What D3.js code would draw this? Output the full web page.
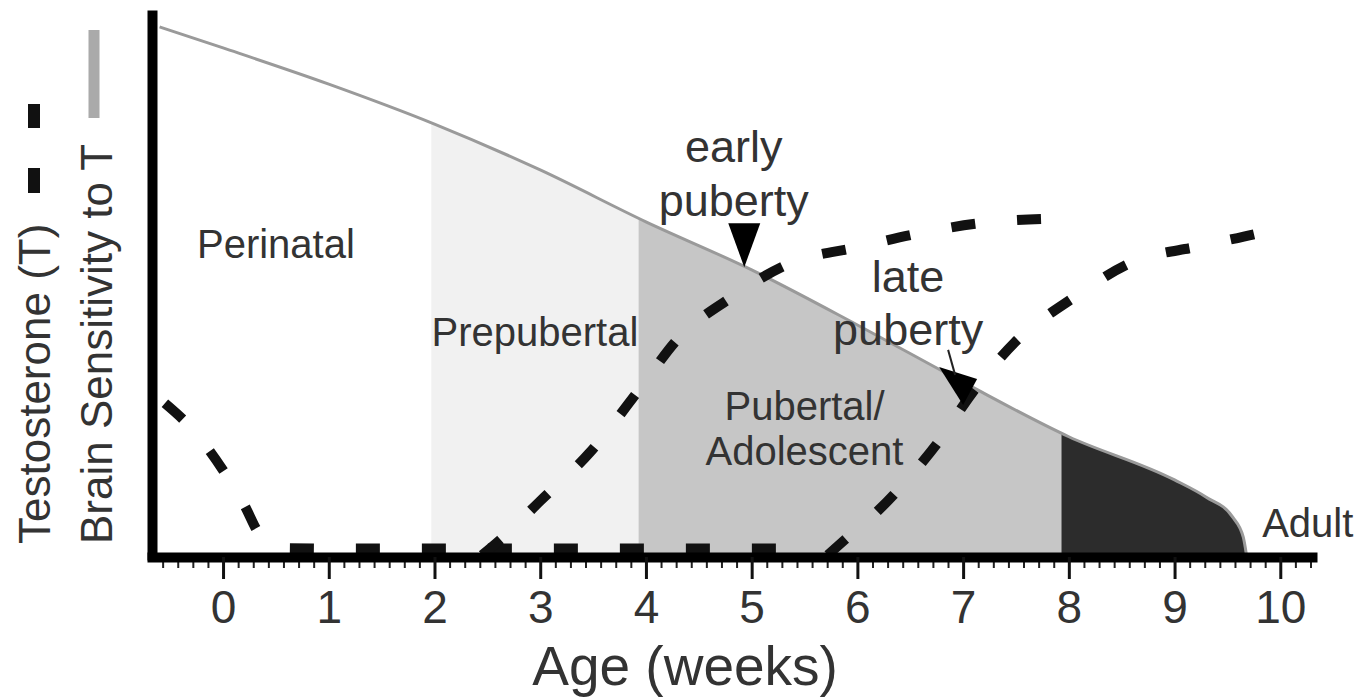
<!DOCTYPE html>
<html>
<head>
<meta charset="utf-8">
<style>
  body { margin: 0; background: #fff; }
  svg { display: block; }
  text { font-family: "Liberation Sans", Arial, sans-serif; fill: #333; }
  .region-label { font-size: 40px; text-anchor: middle; }
  .note { font-size: 45px; text-anchor: middle; }
  .ylab { font-size: 44px; }
  .testo { fill: none; stroke: #111; stroke-width: 10; stroke-dasharray: 24,42; }
  .sens { fill: none; stroke: #9a9a9a; stroke-width: 3; }
</style>
<script src="https://cdn.jsdelivr.net/npm/d3@7"></script>
</head>
<body>
<svg id="chart" width="1371" height="698"></svg>
<script>
// brain sensitivity to T (grey line), weeks vs relative level
const sensWeeks  = [-0.6, 0, 1, 2, 3, 4, 5, 6, 7, 8, 9, 9.3, 9.55, 9.65, 9.68];
const sensValues = [0.978, 0.939, 0.872, 0.798, 0.713, 0.617, 0.528, 0.426, 0.32, 0.219, 0.139, 0.107, 0.07, 0.033, 0];

// testosterone curves (dashed)
const periWeeks  = [-0.55, -0.3, 0, 0.2, 0.35, 0.55, 1, 2, 3, 4, 5.3];
const periValues = [0.281, 0.235, 0.157, 0.093, 0.037, 0.013, 0.012, 0.012, 0.012, 0.012, 0.012];
const earlyWeeks  = [2.45, 2.62, 3.0, 3.47, 3.95, 4.3, 4.8, 5.36, 6.0, 6.64, 7.28, 8.06];
const earlyValues = [0, 0.028, 0.10, 0.19, 0.31, 0.40, 0.476, 0.54, 0.57, 0.598, 0.617, 0.624];
const lateWeeks  = [5.72, 5.88, 6.2, 6.55, 6.78, 7.07, 7.49, 8.04, 8.61, 9.24, 9.88, 10.0];
const lateValues = [0, 0.028, 0.083, 0.157, 0.213, 0.296, 0.394, 0.476, 0.543, 0.572, 0.6, 0.606];

// developmental periods
const periodNames  = ["Perinatal", "Prepubertal", "Pubertal", "Adult"];
const periodStart  = [-0.68, 1.97, 3.93, 7.93];
const periodEnd    = [1.97, 3.93, 7.93, 10.3];
const periodColors = ["#ffffff", "#f1f1f1", "#c6c6c6", "#2c2c2c"];

const xTicks = [0, 1, 2, 3, 4, 5, 6, 7, 8, 9, 10];

const svg = d3.select("#chart");
const x = d3.scaleLinear().domain([-0.672, 10.3]).range([152, 1312]);
const y = d3.scaleLinear().domain([0, 1]).range([555, 15]);

const zip = (ws, vs) => ws.map((w, i) => ({ w: w, v: vs[i] }));
const sensData = zip(sensWeeks, sensValues);

// filled regions under the sensitivity curve
const area = d3.area().x(d => x(d.w)).y0(y(0)).y1(d => y(d.v)).curve(d3.curveMonotoneX);
const defs = svg.append("defs");
periodNames.forEach((name, i) => {
  defs.append("clipPath").attr("id", "clip-" + i)
    .append("rect")
    .attr("x", x(periodStart[i])).attr("y", 0)
    .attr("width", x(periodEnd[i]) - x(periodStart[i])).attr("height", 560);
  svg.append("path")
    .datum(sensData)
    .attr("d", area)
    .attr("fill", periodColors[i])
    .attr("clip-path", "url(#clip-" + i + ")");
});

const line = d3.line().x(d => x(d.w)).y(d => y(d.v)).curve(d3.curveMonotoneX);
svg.append("path").datum(sensData).attr("class", "sens").attr("d", line);

[zip(periWeeks, periValues), zip(earlyWeeks, earlyValues), zip(lateWeeks, lateValues)].forEach(d => {
  svg.append("path").datum(d).attr("class", "testo").attr("d", line);
});

// axes
const minorTicks = d3.range(-4, 73).map(d => d / 7).filter(d => xTicks.indexOf(d) < 0);
const minor = svg.append("g").attr("transform", "translate(0,557)")
  .call(d3.axisBottom(x).tickValues(minorTicks).tickSize(11).tickSizeOuter(0).tickFormat(""));
minor.select(".domain").remove();
minor.selectAll(".tick line").attr("stroke", "#222").attr("stroke-width", 2);

const xAxis = svg.append("g").attr("transform", "translate(0,557)")
  .call(d3.axisBottom(x).tickValues(xTicks).tickSize(22).tickSizeOuter(0));
xAxis.select(".domain").attr("stroke", "#000").attr("stroke-width", 10).attr("stroke-linecap", "square");
xAxis.selectAll(".tick line").attr("stroke", "#111").attr("stroke-width", 3);
xAxis.selectAll(".tick text")
  .attr("y", 66).attr("dy", 0)
  .style("font-size", "46px").style("font-family", "'Liberation Sans', Arial, sans-serif")
  .attr("fill", "#333");

const yAxis = svg.append("g").attr("transform", "translate(152,0)")
  .call(d3.axisLeft(y).tickValues([]).tickSizeOuter(0));
yAxis.select(".domain").attr("stroke", "#000").attr("stroke-width", 10).attr("stroke-linecap", "square");

svg.append("text").attr("x", x(4.37)).attr("y", 685)
  .attr("text-anchor", "middle").style("font-size", "55px").attr("fill", "#222")
  .text("Age (weeks)");

// y labels with legend marks
svg.append("text").attr("class", "ylab").attr("transform", "translate(50,544) rotate(-90)").text("Testosterone (T)");
svg.append("text").attr("class", "ylab").attr("transform", "translate(112,544) rotate(-90)").text("Brain Sensitivity to T");
svg.append("line").attr("x1", 34).attr("x2", 34).attr("y1", 193).attr("y2", 104)
  .attr("stroke", "#111").attr("stroke-width", 12).attr("stroke-dasharray", "25,40");
svg.append("line").attr("x1", 94).attr("x2", 94).attr("y1", 118).attr("y2", 30)
  .attr("stroke", "#aaa").attr("stroke-width", 11);

// region labels
svg.append("text").attr("class", "region-label").attr("x", x(0.5)).attr("y", 258).text("Perinatal");
svg.append("text").attr("class", "region-label").attr("x", x(2.95)).attr("y", 346).text("Prepubertal");
svg.append("text").attr("class", "region-label").attr("x", x(5.5)).attr("y", 420).text("Pubertal/");
svg.append("text").attr("class", "region-label").attr("x", x(5.5)).attr("y", 465).text("Adolescent");
svg.append("text").attr("class", "region-label").attr("x", x(10.26)).attr("y", 537).text("Adult");

// puberty onset annotations
svg.append("text").attr("class", "note").attr("x", x(4.83)).attr("y", 162).text("early");
svg.append("text").attr("class", "note").attr("x", x(4.83)).attr("y", 216).text("puberty");
svg.append("text").attr("class", "note").attr("x", x(6.48)).attr("y", 292).text("late");
svg.append("text").attr("class", "note").attr("x", x(6.48)).attr("y", 345).text("puberty");

const arrowWeeks = [4.93, 7.0];
const arrowValues = [0.533, 0.278];
const arrowShapes = [
  [[-16, -44], [16, -44], [0, 0]],
  [[-24, -38], [14, -26], [0, 0]]
];
arrowWeeks.forEach((w, i) => {
  const tx = x(w), ty = y(arrowValues[i]);
  svg.append("path")
    .attr("d", "M" + arrowShapes[i].map(p => (tx + p[0]) + "," + (ty + p[1])).join("L") + "Z")
    .attr("fill", "#000");
});
svg.append("line")
  .attr("x1", x(7.0) - 15).attr("y1", y(0.278) - 55)
  .attr("x2", x(7.0) - 8).attr("y2", y(0.278) - 30)
  .attr("stroke", "#222").attr("stroke-width", 2);
</script>
</body>
</html>
